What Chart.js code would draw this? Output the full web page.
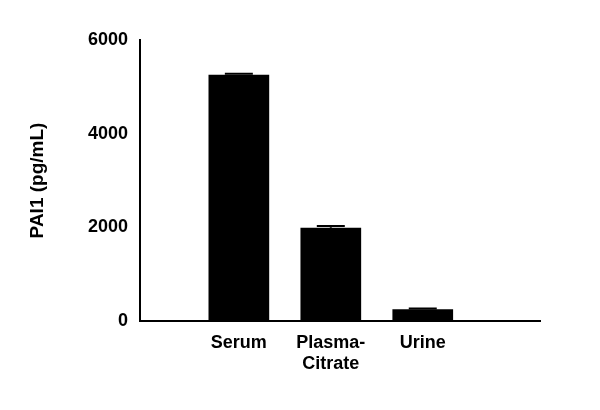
<!DOCTYPE html>
<html><head><script src="https://cdn.jsdelivr.net/npm/chart.js@4"></script>
<style>body{margin:0;background:#fff}</style></head>
<body><div style="width:600px;height:410px"><canvas id="c"></canvas></div>
<script>
const categories=[["Serum"],["Plasma-","Citrate"],["Urine"]];
const values=[5260,1990,250];
const errors=[20,40,15];
const yTicks=[0,2000,4000,6000];
const errPlugin={id:'err',afterDatasetsDraw(ch){const c=ch.ctx,x=ch.scales.x,y=ch.scales.y;c.save();c.strokeStyle='#000';c.lineWidth=2;
values.forEach((v,i)=>{const px=x.getPixelForValue(i),t=y.getPixelForValue(v+errors[i]);c.beginPath();c.moveTo(px,y.getPixelForValue(v));c.lineTo(px,t);c.moveTo(px-14,t);c.lineTo(px+14,t);c.stroke();});c.restore();}};
new Chart(document.getElementById('c'),{type:'bar',
data:{datasets:[{data:values.map((v,i)=>({x:i,y:v})),backgroundColor:'#000',borderColor:'#000',barPercentage:0.66,categoryPercentage:1}]},
options:{responsive:true,maintainAspectRatio:false,animation:false,
layout:{padding:{top:40,right:60,left:22,bottom:0}},
plugins:{legend:{display:false},tooltip:{enabled:false}},
scales:{
y:{min:0,max:6000,afterBuildTicks(s){s.ticks=yTicks.map(v=>({value:v}));},afterFit(s){s.width=118;},
grid:{display:false,drawTicks:true,tickLength:8,tickColor:'#000',tickWidth:2},border:{color:'#000',width:2},
ticks:{color:'#000',font:{family:'Liberation Sans',size:18,weight:'bold'},padding:4,callback:v=>String(v)},
title:{display:true,text:'PAI1 (pg/mL)',color:'#000',font:{family:'Liberation Sans',size:19,weight:'bold'},padding:{bottom:6}}},
x:{type:'linear',min:-0.35,max:2.55,afterBuildTicks(s){s.ticks=[0,1,2].map(v=>({value:v}));},afterFit(s){s.height=89;},
grid:{display:false,drawTicks:true,tickLength:7,tickColor:'#000',tickWidth:2},border:{color:'#000',width:2},
ticks:{color:'#000',font:{family:'Liberation Sans',size:18,weight:'bold'},padding:4,maxRotation:0,autoSkip:false,callback:v=>categories[v]}}}},
plugins:[errPlugin]});
</script></body></html>
